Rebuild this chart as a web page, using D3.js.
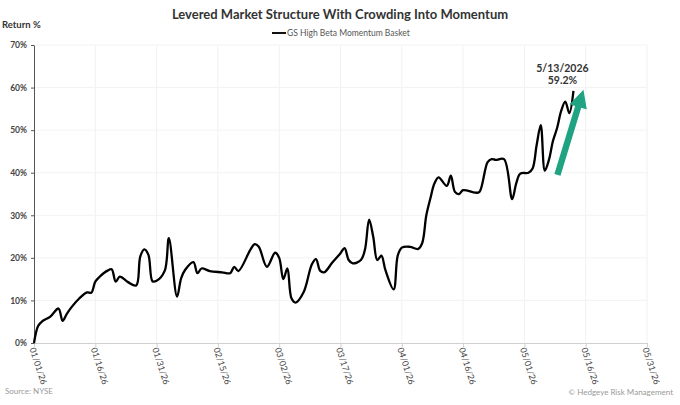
<!DOCTYPE html>
<html>
<head>
<meta charset="utf-8">
<script src="https://cdn.jsdelivr.net/npm/d3@7"></script>
<style>
  body { margin: 0; background: #ffffff; }
  text { font-family: Lato, "Open Sans", sans-serif; }
</style>
</head>
<body>
<div id="chart-container"></div>
<script>
// Data (date, return %)
const dates = [
  "2026-01-01", "2026-01-02", "2026-01-03", "2026-01-05", "2026-01-07", "2026-01-08",
  "2026-01-09", "2026-01-10", "2026-01-12", "2026-01-14", "2026-01-15", "2026-01-16",
  "2026-01-17", "2026-01-19", "2026-01-20", "2026-01-21", "2026-01-22", "2026-01-24",
  "2026-01-26", "2026-01-27", "2026-01-28", "2026-01-29", "2026-01-30", "2026-01-31",
  "2026-02-02", "2026-02-03", "2026-02-05", "2026-02-06", "2026-02-07", "2026-02-09",
  "2026-02-10", "2026-02-11", "2026-02-13", "2026-02-16", "2026-02-18", "2026-02-19",
  "2026-02-20", "2026-02-23", "2026-02-24", "2026-02-25", "2026-02-27", "2026-03-01",
  "2026-03-02", "2026-03-03", "2026-03-04", "2026-03-05", "2026-03-06", "2026-03-08",
  "2026-03-10", "2026-03-11", "2026-03-12", "2026-03-13", "2026-03-15", "2026-03-17",
  "2026-03-18", "2026-03-19", "2026-03-20", "2026-03-22", "2026-03-23", "2026-03-24",
  "2026-03-25", "2026-03-26", "2026-03-27", "2026-03-28", "2026-03-30", "2026-03-31",
  "2026-04-01", "2026-04-03", "2026-04-05", "2026-04-06", "2026-04-07", "2026-04-08",
  "2026-04-09", "2026-04-10", "2026-04-12", "2026-04-13", "2026-04-14", "2026-04-15",
  "2026-04-16", "2026-04-19", "2026-04-20", "2026-04-22", "2026-04-23", "2026-04-24",
  "2026-04-26", "2026-04-28", "2026-04-29", "2026-04-30", "2026-05-02", "2026-05-03",
  "2026-05-04", "2026-05-05", "2026-05-06", "2026-05-07", "2026-05-08", "2026-05-09",
  "2026-05-10", "2026-05-11", "2026-05-12", "2026-05-13"
];
const returns = [
  0.0, 4.0, 5.1, 6.2, 8.1, 5.2,
  6.8, 8.2, 10.4, 11.9, 11.8, 14.4,
  15.5, 17.0, 17.3, 14.4, 15.6, 14.3,
  13.5, 20.3, 22.0, 20.7, 14.5, 14.6,
  17.0, 24.6, 10.9, 15.2, 17.2, 19.0,
  16.4, 17.5, 16.9, 16.6, 16.4, 17.9,
  16.9, 22.0, 23.2, 22.6, 17.9, 21.2,
  20.0, 15.0, 17.5, 10.5, 9.5, 12.0,
  18.5, 19.7, 17.0, 16.6, 18.9, 21.1,
  22.3, 19.5, 18.7, 19.5, 22.0, 29.0,
  25.0, 19.5, 20.5, 17.1, 12.6, 20.5,
  22.4, 22.6, 22.1, 23.5, 30.0, 34.0,
  37.5, 38.9, 36.9, 39.3, 35.5, 35.0,
  35.9, 35.3, 35.5, 42.5, 43.2, 43.0,
  43.2, 33.8, 37.5, 39.8, 40.0, 41.0,
  46.5, 51.2, 40.5, 43.0, 47.5, 50.5,
  54.5, 56.7, 54.0, 59.2
];
const tickDates = [
  "2026-01-01", "2026-01-16", "2026-01-31", "2026-02-15", "2026-03-02", "2026-03-17",
  "2026-04-01", "2026-04-16", "2026-05-01", "2026-05-16", "2026-05-31"
];
const yTicks = [0, 10, 20, 30, 40, 50, 60, 70];
const seriesName = "GS High Beta Momentum Basket";
const lastLabel = ["5/13/2026", "59.2%"];

const width = 680;
const height = 405;
const margin = { top: 45, right: 33, bottom: 62, left: 34 };

const parseDate = d3.timeParse("%Y-%m-%d");
const formatTick = d3.timeFormat("%m/%d/%y");

const data = dates.map((d, i) => ({ date: parseDate(d), value: returns[i] }));
const ticks = tickDates.map(parseDate);

const svg = d3
  .select("#chart-container")
  .append("svg")
  .attr("width", width)
  .attr("height", height);

// Echelles
const x = d3
  .scaleTime()
  .domain(d3.extent(ticks))
  .range([margin.left, width - margin.right]);

const y = d3
  .scaleLinear()
  .domain([0, 70])
  .range([height - margin.bottom, margin.top]);

// Grille legere
svg
  .append("g")
  .selectAll("line")
  .data(ticks.slice(1))
  .enter()
  .append("line")
  .attr("x1", (d) => x(d))
  .attr("x2", (d) => x(d))
  .attr("y1", y(70))
  .attr("y2", y(0))
  .attr("stroke", "#f1f1f1")
  .attr("stroke-width", 1);

svg
  .append("g")
  .selectAll("line")
  .data(yTicks.slice(1))
  .enter()
  .append("line")
  .attr("x1", x.range()[0])
  .attr("x2", x.range()[1])
  .attr("y1", (d) => y(d))
  .attr("y2", (d) => y(d))
  .attr("stroke", "#f3f3f3")
  .attr("stroke-width", 1);

// Axe X
const xAxis = svg
  .append("g")
  .attr("transform", `translate(0,${y(0)})`)
  .call(d3.axisBottom(x).tickValues(ticks).tickFormat(formatTick).tickSize(4).tickSizeOuter(0));
xAxis.select(".domain").attr("stroke", "#d0d0d0");
xAxis.selectAll(".tick line").attr("stroke", "#d0d0d0");
xAxis
  .selectAll("text")
  .attr("text-anchor", "start")
  .attr("transform", "translate(-3,2) rotate(72)")
  .attr("dx", 0)
  .attr("dy", "0.35em")
  .attr("x", 3)
  .attr("y", 0)
  .style("font-size", "8.7px")
  .style("fill", "#444");

// Axe Y
const yAxis = svg
  .append("g")
  .attr("transform", `translate(${margin.left},0)`)
  .call(d3.axisLeft(y).tickValues(yTicks).tickFormat((d) => d + "%").tickSize(3).tickSizeOuter(0));
yAxis.select(".domain").attr("stroke", "#555");
yAxis.selectAll(".tick line").attr("stroke", "#555");
yAxis
  .selectAll("text")
  .attr("x", -7)
  .style("font-size", "8.5px")
  .style("font-weight", "bold")
  .style("fill", "#444");

// Titre, legende, sources
svg
  .append("text")
  .attr("x", width / 2)
  .attr("y", 19)
  .attr("text-anchor", "middle")
  .style("font-size", "13px")
  .style("font-weight", "bold")
  .style("fill", "#333")
  .text("Levered Market Structure With Crowding Into Momentum");

svg
  .append("text")
  .attr("x", 2)
  .attr("y", 28)
  .style("font-size", "9.5px")
  .style("font-weight", "bold")
  .style("fill", "#333")
  .text("Return %");

svg
  .append("line")
  .attr("x1", 272)
  .attr("x2", 286)
  .attr("y1", 33)
  .attr("y2", 33)
  .attr("stroke", "#111")
  .attr("stroke-width", 2);

svg
  .append("text")
  .attr("x", 287)
  .attr("y", 36)
  .style("font-size", "8.5px")
  .style("fill", "#555")
  .text(seriesName);

svg
  .append("text")
  .attr("x", 5)
  .attr("y", 394)
  .style("font-size", "8px")
  .style("fill", "#999")
  .text("Source: NYSE");

svg
  .append("text")
  .attr("x", 673)
  .attr("y", 395)
  .attr("text-anchor", "end")
  .style("font-size", "8px")
  .style("fill", "#999")
  .text("\u00a9 Hedgeye Risk Management");

// Courbe
const line = d3
  .line()
  .x((d) => x(d.date))
  .y((d) => y(d.value))
  .curve(d3.curveCatmullRom.alpha(0.5));

svg
  .append("path")
  .datum(data)
  .attr("d", line)
  .attr("fill", "none")
  .attr("stroke", "#000")
  .attr("stroke-width", 2.3)
  .attr("stroke-linejoin", "round");

// Fleche verte
const last = data.at(-1);
const tail = { x: x(last.date) - 16, y: y(39.5) };
const tip = { x: x(last.date) + 10, y: y(59.5) };
const ang = Math.atan2(tip.y - tail.y, tip.x - tail.x);
const headLen = 18;
const headHalf = 9;
const shaftHalf = 3.2;
const bx = tip.x - headLen * Math.cos(ang);
const by = tip.y - headLen * Math.sin(ang);
const px = -Math.sin(ang);
const py = Math.cos(ang);
const arrow = d3.path();
arrow.moveTo(tail.x + px * shaftHalf, tail.y + py * shaftHalf);
arrow.lineTo(bx + px * shaftHalf, by + py * shaftHalf);
arrow.lineTo(bx + px * headHalf, by + py * headHalf);
arrow.lineTo(tip.x, tip.y);
arrow.lineTo(bx - px * headHalf, by - py * headHalf);
arrow.lineTo(bx - px * shaftHalf, by - py * shaftHalf);
arrow.lineTo(tail.x - px * shaftHalf, tail.y - py * shaftHalf);
arrow.closePath();

svg
  .append("path")
  .attr("d", arrow.toString())
  .attr("fill", "#1fa383");

// Etiquette du dernier point
svg
  .selectAll("lastLabel")
  .data(lastLabel)
  .enter()
  .append("text")
  .attr("x", x(last.date) - 11)
  .attr("y", (d, i) => 72 + i * 12)
  .attr("text-anchor", "middle")
  .style("font-size", "10.5px")
  .style("font-weight", "bold")
  .style("fill", "#333")
  .text((d) => d);
</script>
</body>
</html>
